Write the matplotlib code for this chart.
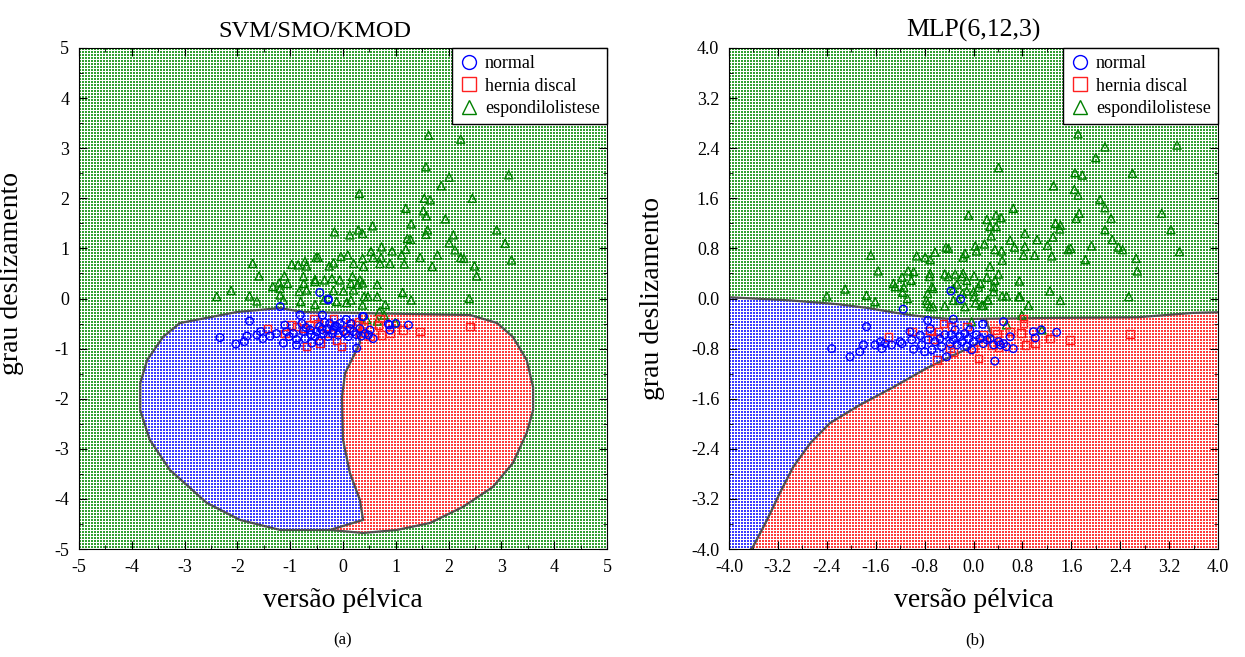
import numpy as np
import matplotlib.pyplot as plt
from matplotlib.path import Path
from matplotlib.lines import Line2D
from matplotlib.ticker import MultipleLocator

plt.rcParams['font.family'] = ['Liberation Serif', 'DejaVu Serif']
plt.rcParams['axes.unicode_minus'] = False

# ---- panel (a): SVM/SMO/KMOD samples (x = versão pélvica, y = grau deslizamento)
a_normal = np.array([
    (-2.33, -0.78), (-2.03, -0.91), (-1.87, -0.86), (-1.82, -0.75), (-1.77, -0.45),
    (-1.63, -0.73), (-1.56, -0.66), (-1.52, -0.80), (-1.38, -0.75), (-1.26, -0.70),
    (-1.19, -0.16), (-1.10, -0.53), (-1.07, -0.66), (-1.02, -0.76), (-0.94, -0.70),
    (-0.88, -0.82), (-0.81, -0.33), (-0.78, -0.50), (-0.75, -0.66), (-0.72, -0.80),
    (-0.62, -0.63), (-0.53, -0.76), (-0.50, -0.66), (-0.44, -0.56), (-0.39, -0.33),
    (-0.37, -0.70), (-0.28, -0.76), (-0.25, -0.50), (-0.18, -0.63), (-0.12, -0.56),
    (-0.09, -0.73), (-0.06, -0.50), (0.01, -0.66), (0.06, -0.42), (0.10, -0.76),
    (0.13, -0.60), (0.20, -0.66), (0.26, -0.99), (0.32, -0.60), (0.39, -0.36),
    (0.42, -0.70), (0.48, -0.73), (0.51, -0.63), (0.57, -0.80), (0.88, -0.53),
    (0.89, -0.63), (1.00, -0.50), (1.24, -0.53), (-0.28, -0.03), (-1.13, -0.89),
    (-0.59, -0.89), (-0.88, -0.93), (-0.44, 0.12), (-0.28, -0.01), (0.37, -0.36),
    (0.86, -0.51), (-0.30, -0.60), (-0.20, -0.70), (-0.40, -0.62), (-0.15, -0.55),
    (0.05, -0.70), (-0.60, -0.72), (-0.45, -0.85), (0.15, -0.50), (0.25, -0.72),
    (0.35, -0.75), (-0.70, -0.58), (-0.35, -0.48),
])
a_hernia = np.array([
    (-1.43, -0.60), (-0.99, -0.53), (-0.75, -0.60), (-0.63, -0.53), (-0.55, -0.40),
    (-0.47, -0.50), (-0.69, -0.96), (-0.44, -0.89), (-0.31, -0.60), (-0.18, -0.40),
    (-0.03, -0.96), (-0.12, -0.83), (0.13, -0.50), (0.26, -0.53), (0.29, -0.46),
    (0.39, -0.56), (0.51, -0.76), (0.67, -0.53), (0.73, -0.73), (0.89, -0.70),
    (1.14, -0.63), (1.46, -0.66), (2.41, -0.56), (0.70, -0.40), (-1.10, -0.70),
    (-0.88, -0.56), (-0.25, -0.70), (0.07, -0.63), (0.32, -0.70),
])
a_espondilo = np.array([
    (1.62, 3.26), (2.23, 3.18), (1.57, 2.63), (3.14, 2.47), (2.01, 2.42),
    (1.86, 2.25), (0.31, 2.10), (1.54, 2.00), (1.65, 1.97), (2.45, 2.00),
    (1.19, 1.80), (1.52, 1.75), (1.58, 1.65), (1.94, 1.59), (1.29, 1.49),
    (0.56, 1.45), (1.60, 1.37), (2.91, 1.37), (-0.16, 1.33), (0.13, 1.27),
    (0.29, 1.37), (0.37, 1.30), (1.22, 1.20), (1.28, 1.18), (2.01, 1.11),
    (3.07, 1.10), (2.09, 1.27), (1.57, 1.28), (0.73, 1.03), (0.93, 0.95),
    (1.19, 0.98), (1.11, 0.87), (2.12, 0.97), (0.53, 0.94), (-0.04, 0.84),
    (0.09, 0.87), (-0.51, 0.82), (-0.47, 0.82), (0.37, 0.80), (0.72, 0.82),
    (0.57, 0.82), (1.46, 0.82), (1.79, 0.87), (2.23, 0.82), (2.29, 0.80),
    (2.49, 0.65), (2.53, 0.45), (3.19, 0.77), (-1.71, 0.70), (-0.97, 0.68),
    (-0.85, 0.67), (-0.72, 0.74), (-0.69, 0.65), (-0.26, 0.65), (-0.18, 0.71),
    (0.20, 0.70), (0.39, 0.64), (0.70, 0.70), (0.89, 0.70), (1.16, 0.69),
    (1.69, 0.64), (-1.59, 0.45), (-1.11, 0.45), (-1.05, 0.30), (-1.21, 0.31),
    (-0.75, 0.44), (-0.74, 0.30), (-0.53, 0.38), (-0.35, 0.37), (-0.21, 0.40),
    (-0.06, 0.37), (0.18, 0.44), (0.32, 0.37), (0.37, 0.31), (0.65, 0.28),
    (0.15, 0.30), (0.28, 0.28), (-1.33, 0.24), (-1.19, 0.20), (-0.83, 0.14),
    (-0.69, 0.17), (-0.53, 0.34), (-0.18, 0.16), (0.01, 0.15), (0.20, 0.17),
    (0.40, 0.04), (0.47, 0.04), (0.65, 0.04), (1.13, 0.12), (1.29, -0.03),
    (2.39, 0.00), (-2.39, 0.04), (-2.12, 0.16), (-1.77, 0.05), (-1.63, -0.05),
    (-1.19, 0.07), (-1.13, -0.03), (-0.80, -0.06), (-0.53, -0.12), (-0.36, -0.03),
    (-0.12, -0.06), (0.07, -0.08), (0.15, -0.03), (0.37, -0.13), (0.80, -0.12),
    (0.69, -0.26), (0.65, -0.45), (0.78, -0.33), (0.99, -0.48), (0.45, -0.42),
])

# ---- panel (b): MLP(6,12,3) samples
b_normal = np.array([
    (-0.37, 0.12), (-0.21, -0.01), (-1.15, -0.17), (-0.75, -0.35), (-1.75, -0.45),
    (-0.33, -0.33), (0.15, -0.41), (0.49, -0.37), (-2.32, -0.80), (-2.02, -0.93),
    (-1.86, -0.85), (-1.80, -0.74), (-1.61, -0.74), (-1.52, -0.69), (-1.50, -0.80),
    (-1.45, -0.72), (-1.34, -0.74), (-1.20, -0.69), (-1.17, -0.72), (-1.04, -0.53),
    (-1.01, -0.66), (-0.98, -0.81), (-0.87, -0.59), (-0.85, -0.74), (-0.80, -0.85),
    (-0.74, -0.66), (-0.71, -0.48), (-0.68, -0.82), (-0.63, -0.69), (-0.55, -0.64),
    (-0.52, -0.77), (-0.47, -0.58), (-0.44, -0.93), (-0.38, -0.72), (-0.36, -0.58),
    (-0.33, -0.66), (-0.30, -0.50), (-0.27, -0.74), (-0.22, -0.61), (-0.19, -0.69),
    (-0.14, -0.56), (-0.11, -0.77), (-0.08, -0.64), (-0.06, -0.50), (-0.03, -0.82),
    (0.00, -0.69), (0.05, -0.58), (0.11, -0.64), (0.16, -0.72), (0.22, -0.66),
    (0.27, -0.64), (0.33, -0.74), (0.35, -1.00), (0.41, -0.69), (0.44, -0.74),
    (0.49, -0.72), (0.54, -0.77), (0.60, -0.61), (0.65, -0.80), (0.98, -0.53),
    (1.01, -0.63), (1.11, -0.50), (1.36, -0.54),
])
b_hernia = np.array([
    (-1.39, -0.61), (-1.01, -0.53), (-0.71, -0.51), (-0.60, -0.98), (-0.57, -0.53),
    (-0.49, -0.40), (-0.36, -0.45), (-0.33, -0.85), (-0.11, -0.45), (0.08, -0.96),
    (0.16, -0.58), (0.30, -0.74), (0.35, -0.51), (0.41, -0.77), (0.60, -0.53),
    (0.78, -0.55), (0.82, -0.40), (0.82, -0.32), (0.85, -0.74), (1.01, -0.72),
    (1.25, -0.64), (1.58, -0.66), (2.56, -0.57), (-0.38, -0.80), (0.00, -0.80),
    (0.38, -0.56), (-0.66, -0.65),
])
b_espondilo = np.array([
    (1.71, 2.63), (2.15, 2.42), (3.33, 2.45), (2.00, 2.25), (2.60, 2.00),
    (0.41, 2.09), (1.66, 2.01), (1.78, 1.97), (1.31, 1.80), (1.65, 1.74),
    (1.71, 1.65), (2.07, 1.58), (2.15, 1.45), (3.08, 1.36), (0.65, 1.44),
    (-0.08, 1.33), (0.22, 1.26), (0.37, 1.33), (0.45, 1.29), (0.27, 1.15),
    (0.37, 1.15), (1.34, 1.20), (1.41, 1.11), (1.42, 1.17), (1.68, 1.28),
    (1.73, 1.36), (2.25, 1.28), (2.15, 1.10), (3.23, 1.10), (0.29, 1.00),
    (0.84, 1.04), (0.60, 0.93), (1.04, 0.94), (1.30, 0.98), (2.27, 0.94),
    (2.44, 0.78), (2.37, 0.82), (1.21, 0.85), (0.84, 0.83), (0.67, 0.82),
    (-0.45, 0.82), (-0.41, 0.80), (0.03, 0.84), (0.05, 0.76), (0.18, 0.87),
    (0.35, 0.78), (0.46, 0.76), (0.82, 0.69), (1.00, 0.69), (1.28, 0.68),
    (1.55, 0.78), (1.59, 0.80), (1.93, 0.84), (1.83, 0.62), (2.66, 0.64),
    (3.37, 0.75), (-1.68, 0.69), (-0.93, 0.68), (-0.79, 0.66), (-0.71, 0.62),
    (-0.63, 0.74), (-0.14, 0.72), (-0.17, 0.66), (0.47, 0.61), (0.27, 0.51),
    (-1.56, 0.44), (-1.07, 0.44), (-0.98, 0.43), (-1.17, 0.34), (-1.02, 0.29),
    (-0.71, 0.40), (-0.72, 0.35), (-0.47, 0.39), (-0.41, 0.35), (-0.30, 0.39),
    (-0.19, 0.35), (-0.17, 0.40), (0.01, 0.36), (0.22, 0.34), (0.41, 0.39),
    (0.35, 0.29), (0.75, 0.28), (2.68, 0.44), (-1.31, 0.24), (-1.14, 0.18),
    (-1.28, 0.19), (-1.16, 0.10), (-1.08, 0.00), (-0.68, 0.19), (-0.66, 0.16),
    (-0.75, 0.08), (-0.77, -0.03), (-0.33, 0.16), (-0.27, 0.23), (-0.18, 0.08),
    (-0.11, 0.12), (0.00, 0.11), (0.08, 0.18), (0.33, 0.19), (0.33, 0.11),
    (0.47, 0.04), (0.54, 0.04), (1.25, 0.12), (0.74, 0.03), (-2.10, 0.15),
    (-2.40, 0.04), (-1.75, 0.05), (-1.61, -0.05), (-0.75, -0.08), (-0.71, -0.13),
    (-0.47, -0.12), (-0.33, -0.03), (-0.25, -0.03), (-0.14, -0.13), (0.01, 0.03),
    (0.13, -0.11), (0.23, -0.02), (0.90, -0.11), (1.42, -0.03), (2.54, 0.03),
    (-0.11, 0.29), (0.11, 0.24), (-0.66, -0.13), (0.03, -0.07), (0.16, -0.11),
    (0.24, -0.03), (0.76, 0.03), (0.79, -0.27), (-0.03, -0.37), (0.54, -0.42),
    (1.12, -0.50),
])

# ---- decision-region outlines
svm_outer = np.array([
    (-3.09, -0.49), (-2.01, -0.27), (-1.19, -0.19), (-0.76, -0.27), (0.27, -0.29),
    (2.41, -0.33), (2.92, -0.49), (3.22, -0.77), (3.48, -1.23), (3.60, -1.77),
    (3.60, -2.23), (3.48, -2.68), (3.22, -3.28), (2.84, -3.76), (2.27, -4.16),
    (1.65, -4.48), (1.02, -4.62), (0.38, -4.68), (-0.25, -4.62), (-1.19, -4.62),
    (-1.95, -4.42), (-2.58, -4.08), (-3.28, -3.42), (-3.66, -2.82), (-3.84, -2.23),
    (-3.84, -1.69), (-3.71, -1.23), (-3.41, -0.77),
])
svm_split = np.array([
    (0.32, -0.30), (0.32, -0.89), (0.19, -1.17), (0.04, -1.49), (-0.02, -1.97),
    (0.00, -2.82), (0.13, -3.48), (0.32, -4.02), (0.38, -4.42), (-0.25, -4.62),
])
mlp_top = np.array([
    (-4.0, 0.02), (-3.0, -0.03), (-2.23, -0.09), (-1.74, -0.15), (-1.32, -0.22),
    (-0.99, -0.27), (-0.60, -0.31), (-0.33, -0.33), (1.30, -0.31), (2.68, -0.30),
    (3.59, -0.23), (4.0, -0.22),
])
mlp_split = np.array([
    (0.20, -0.33), (0.30, -0.60), (-0.10, -0.80), (-0.76, -1.11), (-1.32, -1.42),
    (-1.86, -1.70), (-2.35, -1.99), (-2.67, -2.31), (-2.95, -2.69), (-3.17, -3.11),
    (-3.38, -3.54), (-3.61, -3.97), (-3.64, -4.0),
])

W, H = 1245, 657
fig = plt.figure(figsize=(W / 100, H / 100), dpi=100)


def add_ax(l, t, r, b):
    return fig.add_axes([l / W, 1 - b / H, (r - l) / W, (b - t) / H])


palette = np.array([[60, 60, 255], [255, 60, 60], [50, 160, 50]], dtype=float) / 255


def texture(labels):
    # checkered fill: coloured cells separated by white grid lines
    h, w = labels.shape
    rgb = palette[labels]
    rr, cc = np.mgrid[0:h, 0:w]
    gap = (cc % 3 == 2) | (rr % 3 == 2)
    rgb[gap] = 1.0
    return rgb


def grid(lim, w, h):
    xs = -lim + (np.arange(w) + 0.5) / w * 2 * lim
    ys = lim - (np.arange(h) + 0.5) / h * 2 * lim
    return np.meshgrid(xs, ys)


def split_x(Y, pts):
    order = np.argsort(pts[:, 1])
    return np.interp(Y, pts[order, 1], pts[order, 0])


# labels: 0 normal, 1 hernia, 2 espondilolistese
ax1 = add_ax(79, 48, 607, 549)
X, Y = grid(5, 528, 501)
inside = Path(svm_outer).contains_points(np.c_[X.ravel(), Y.ravel()]).reshape(X.shape)
lab_a = np.where(inside, np.where(X < split_x(Y, svm_split), 0, 1), 2)
ax1.imshow(texture(lab_a), extent=(-5, 5, -5, 5), aspect='auto', interpolation='nearest')
outline = np.vstack([svm_outer, svm_outer[:1]])
ax1.plot(outline[:, 0], outline[:, 1], color='#505050', lw=1.6)
ax1.plot(svm_split[:, 0], svm_split[:, 1], color='#505050', lw=1.6)

ax2 = add_ax(729, 48, 1218, 549)
X, Y = grid(4, 489, 501)
top = Y > np.interp(X, mlp_top[:, 0], mlp_top[:, 1])
lab_b = np.where(top, 2, np.where(X < split_x(Y, mlp_split), 0, 1))
ax2.imshow(texture(lab_b), extent=(-4, 4, -4, 4), aspect='auto', interpolation='nearest')
ax2.plot(mlp_top[:, 0], mlp_top[:, 1], color='#505050', lw=1.6)
ax2.plot(mlp_split[:, 0], mlp_split[:, 1], color='#505050', lw=1.6)

c_blue, c_red, c_green = '#0000ff', '#ff2020', '#008000'

for ax, nor, her, esp in [(ax1, a_normal, a_hernia, a_espondilo),
                          (ax2, b_normal, b_hernia, b_espondilo)]:
    ax.scatter(esp[:, 0], esp[:, 1], marker='^', s=34, facecolors='none',
               edgecolors=c_green, linewidths=1.0, zorder=3)
    ax.scatter(her[:, 0], her[:, 1], marker='s', s=30, facecolors='none',
               edgecolors=c_red, linewidths=1.0, zorder=3)
    ax.scatter(nor[:, 0], nor[:, 1], marker='o', s=30, facecolors='none',
               edgecolors=c_blue, linewidths=1.0, zorder=4)
    handles = [
        Line2D([], [], ls='none', marker='o', ms=10, mfc='none', mec=c_blue, mew=1, label='normal'),
        Line2D([], [], ls='none', marker='s', ms=10, mfc='none', mec=c_red, mew=1, label='hernia discal'),
        Line2D([], [], ls='none', marker='^', ms=10, mfc='none', mec=c_green, mew=1, label='espondilolistese'),
    ]
    leg = ax.legend(handles=handles, loc='upper right', borderaxespad=0, fancybox=False,
                    edgecolor='black', framealpha=1, fontsize=13, handlelength=1.0,
                    handletextpad=0.4, labelspacing=0.3, borderpad=0.4)
    leg.get_frame().set_linewidth(1.0)
    ax.tick_params(which='both', direction='in', top=True, right=True, labelsize=13, pad=7)
    ax.tick_params(which='major', length=6)
    ax.tick_params(which='minor', length=3)
    ax.set_xlabel('versão pélvica', fontsize=20, labelpad=9)
    ax.set_ylabel('grau deslizamento', fontsize=20)

ax1.set_xlim(-5, 5)
ax1.set_ylim(-5, 5)
ax1.set_xticks(np.arange(-5, 6, 1))
ax1.set_yticks(np.arange(-5, 6, 1))
ax1.xaxis.set_minor_locator(MultipleLocator(0.5))
ax1.yaxis.set_minor_locator(MultipleLocator(0.5))
ax1.set_title('SVM/SMO/KMOD', fontsize=17.5, pad=8, x=0.447)
ax1.yaxis.set_label_coords(-0.105, 0.55)

ticks_b = np.round(np.arange(-4.0, 4.01, 0.8), 1)
labels_b = [f'{abs(t):.1f}' if abs(t) < 1e-9 else f'{t:.1f}' for t in ticks_b]
ax2.set_xlim(-4, 4)
ax2.set_ylim(-4, 4)
ax2.set_xticks(ticks_b)
ax2.set_yticks(ticks_b)
ax2.set_xticklabels(labels_b)
ax2.set_yticklabels(labels_b)
ax2.xaxis.set_minor_locator(MultipleLocator(0.4))
ax2.yaxis.set_minor_locator(MultipleLocator(0.4))
ax2.set_title('MLP(6,12,3)', fontsize=18.5, pad=8)
ax2.yaxis.set_label_coords(-0.13, 0.5)

fig.text(343 / W, 1 - 640 / H, '(a)', ha='center', va='center', fontsize=12)
fig.text(975 / W, 1 - 640 / H, '(b)', ha='center', va='center', fontsize=12)

fig.savefig('out.png', dpi=100)
